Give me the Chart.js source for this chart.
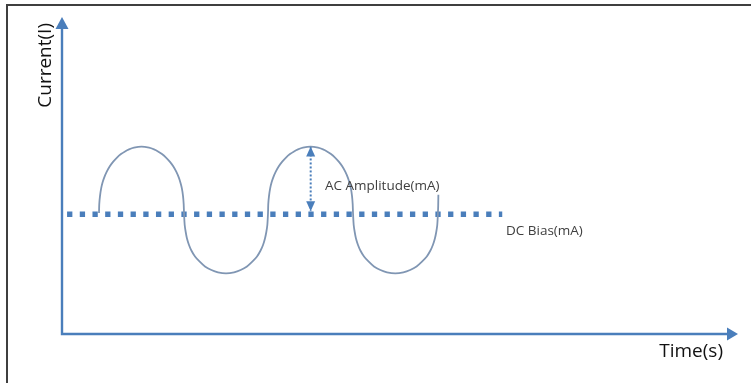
<!DOCTYPE html>
<html>
<head>
<meta charset="utf-8">
<script src="https://cdn.jsdelivr.net/npm/chart.js@4.4.1/dist/chart.umd.min.js"></script>
<style>
  html, body { margin: 0; padding: 0; background: #fff; }
  #wrap { position: relative; width: 751px; height: 383px; overflow: hidden; }
  #frame {
    position: absolute; left: 6px; top: 4px; right: -4px; bottom: -4px;
    border-left: 2px solid #3f3f3f; border-top: 2px solid #3f3f3f;
    pointer-events: none;
  }
</style>
</head>
<body>
<div id="wrap">
  <canvas id="chart" width="751" height="383"></canvas>
  <div id="frame"></div>
</div>
<script>
// AC signal on top of a DC bias (time units, current units)
const timeValues = [
  // first upper lobe
  0.438, 0.441, 0.450, 0.464, 0.479, 0.497, 0.527, 0.562, 0.604, 0.651, 0.698, 0.746, 0.793, 0.852, 0.941,
  1.030, 1.089, 1.136, 1.183, 1.231, 1.278, 1.320, 1.355, 1.385, 1.402, 1.418, 1.432, 1.440, 1.444,
  // first lower lobe
  1.452, 1.464, 1.479, 1.503, 1.531, 1.574, 1.630, 1.692, 1.768, 1.846, 1.941,
  2.036, 2.114, 2.189, 2.252, 2.308, 2.350, 2.379, 2.402, 2.418, 2.430, 2.438,
  // second upper lobe
  2.441, 2.450, 2.464, 2.479, 2.497, 2.527, 2.562, 2.604, 2.651, 2.698, 2.746, 2.793, 2.852, 2.941,
  3.030, 3.089, 3.136, 3.183, 3.231, 3.278, 3.320, 3.355, 3.385, 3.402, 3.418, 3.432, 3.440, 3.444,
  // second lower lobe and the tail
  3.452, 3.464, 3.479, 3.503, 3.531, 3.574, 3.630, 3.692, 3.768, 3.846, 3.945,
  4.040, 4.120, 4.196, 4.260, 4.317, 4.360, 4.389, 4.413, 4.429, 4.441, 4.449, 4.452, 4.454
]
const currentValues = [
  2.000, 2.149, 2.284, 2.410, 2.499, 2.577, 2.674, 2.764, 2.845, 2.917, 2.974, 3.018, 3.051, 3.079, 3.096,
  3.079, 3.051, 3.018, 2.974, 2.917, 2.845, 2.764, 2.674, 2.577, 2.499, 2.410, 2.284, 2.149, 2.000,
  1.802, 1.686, 1.579, 1.471, 1.380, 1.281, 1.195, 1.116, 1.058, 1.020, 1.003,
  1.020, 1.058, 1.116, 1.195, 1.281, 1.380, 1.471, 1.579, 1.686, 1.802, 2.000,
  2.149, 2.284, 2.410, 2.499, 2.577, 2.674, 2.764, 2.845, 2.917, 2.974, 3.018, 3.051, 3.079, 3.096,
  3.079, 3.051, 3.018, 2.974, 2.917, 2.845, 2.764, 2.674, 2.577, 2.499, 2.410, 2.284, 2.149, 2.000,
  1.802, 1.686, 1.579, 1.471, 1.380, 1.281, 1.195, 1.116, 1.058, 1.020, 1.003,
  1.020, 1.058, 1.116, 1.195, 1.281, 1.380, 1.471, 1.579, 1.686, 1.802, 2.000, 2.120, 2.300
]
const dcBiasTime = [0.06, 5.21]
const dcBiasValue = [1.98, 1.98]
const amplitudeTime = [2.943, 2.943]
const amplitudeValue = [3.10, 2.03]

const timeAxis = [0, 8]
const currentAxis = [0, 5]
const currentArrowTip = 5.24

const axisColor = '#4a7ebb'
const waveColor = '#8096b3'
const font = '"Open Sans", "Noto Sans", sans-serif'

// free text labels, placed in data units
const notes = [
  { text: 'AC Amplitude(mA)', t: 3.112, c: 2.38 },
  { text: 'DC Bias(mA)', t: 5.254, c: 1.636 }
]

function arrowHead(ctx, tx, ty, dx, dy, len, half) {
  const bx = tx - dx * len, by = ty - dy * len
  ctx.beginPath()
  ctx.moveTo(tx, ty)
  ctx.lineTo(bx - dy * half, by + dx * half)
  ctx.lineTo(bx + dy * half, by - dx * half)
  ctx.closePath()
  ctx.fill()
}

const sketchPlugin = {
  id: 'sketch',
  beforeDatasetsDraw(chart) {
    const { ctx, scales: { x, y } } = chart
    const x0 = x.getPixelForValue(timeAxis[0])
    const y0 = y.getPixelForValue(currentAxis[0])
    const xTip = x.getPixelForValue(timeAxis[1])
    const yTip = y.getPixelForValue(currentArrowTip)
    ctx.save()
    ctx.strokeStyle = axisColor
    ctx.fillStyle = axisColor
    ctx.lineWidth = 2.4
    ctx.beginPath()
    ctx.moveTo(x0, y0)
    ctx.lineTo(x0, yTip + 10)
    ctx.moveTo(x0 - 1.2, y0)
    ctx.lineTo(xTip - 9, y0)
    ctx.stroke()
    arrowHead(ctx, x0, yTip, 0, -1, 12, 6.5)
    arrowHead(ctx, xTip, y0, 1, 0, 11, 6.5)
    ctx.restore()
  },
  afterDatasetsDraw(chart) {
    const { ctx, scales: { x, y } } = chart
    const x0 = x.getPixelForValue(timeAxis[0])
    const y0 = y.getPixelForValue(currentAxis[0])
    const xTip = x.getPixelForValue(timeAxis[1])
    const yTip = y.getPixelForValue(currentArrowTip)
    ctx.save()

    // amplitude arrow heads
    const pts = chart.getDatasetMeta(2).data
    ctx.fillStyle = axisColor
    arrowHead(ctx, pts[0].x, pts[0].y, 0, -1, 10, 4.5)
    arrowHead(ctx, pts[1].x, pts[1].y, 0, 1, 10, 4.5)

    // axis titles
    ctx.fillStyle = '#111'
    ctx.font = '19px ' + font
    ctx.textBaseline = 'alphabetic'
    ctx.textAlign = 'right'
    ctx.fillText('Time(s)', xTip - 15, y0 + 23)

    ctx.save()
    ctx.translate(x0 - 11, yTip + 6)
    ctx.rotate(-Math.PI / 2)
    ctx.textAlign = 'right'
    ctx.fillText('Current(I)', 0, 0)
    ctx.restore()

    // notes
    ctx.fillStyle = '#404040'
    ctx.font = '13.5px ' + font
    ctx.textAlign = 'left'
    notes.forEach(n => {
      ctx.fillText(n.text, x.getPixelForValue(n.t), y.getPixelForValue(n.c))
    })
    ctx.restore()
  }
}

new Chart(document.getElementById('chart'), {
  type: 'line',
  data: {
    datasets: [
      {
        label: 'Current',
        data: timeValues.map((t, i) => ({ x: t, y: currentValues[i] })),
        borderColor: waveColor,
        borderWidth: 1.8,
        pointRadius: 0,
        tension: 0.25,
        fill: false,
        clip: false
      },
      {
        label: 'DC Bias',
        data: dcBiasTime.map((t, i) => ({ x: t, y: dcBiasValue[i] })),
        borderColor: axisColor,
        borderWidth: 5.5,
        borderDash: [5.3, 7.4],
        borderCapStyle: 'butt',
        pointRadius: 0,
        fill: false,
        clip: false
      },
      {
        label: 'AC Amplitude',
        data: amplitudeTime.map((t, i) => ({ x: t, y: amplitudeValue[i] })),
        borderColor: axisColor,
        borderWidth: 2,
        borderDash: [2, 2],
        borderCapStyle: 'butt',
        pointRadius: 0,
        fill: false,
        clip: false
      }
    ]
  },
  options: {
    responsive: false,
    animation: false,
    events: [],
    layout: {
      padding: { left: 62, right: 13, top: 31.5, bottom: 49 }
    },
    plugins: {
      legend: { display: false },
      tooltip: { enabled: false }
    },
    scales: {
      x: { type: 'linear', min: timeAxis[0], max: timeAxis[1], display: false },
      y: { type: 'linear', min: currentAxis[0], max: currentAxis[1], display: false }
    }
  },
  plugins: [sketchPlugin]
})
</script>
</body>
</html>
